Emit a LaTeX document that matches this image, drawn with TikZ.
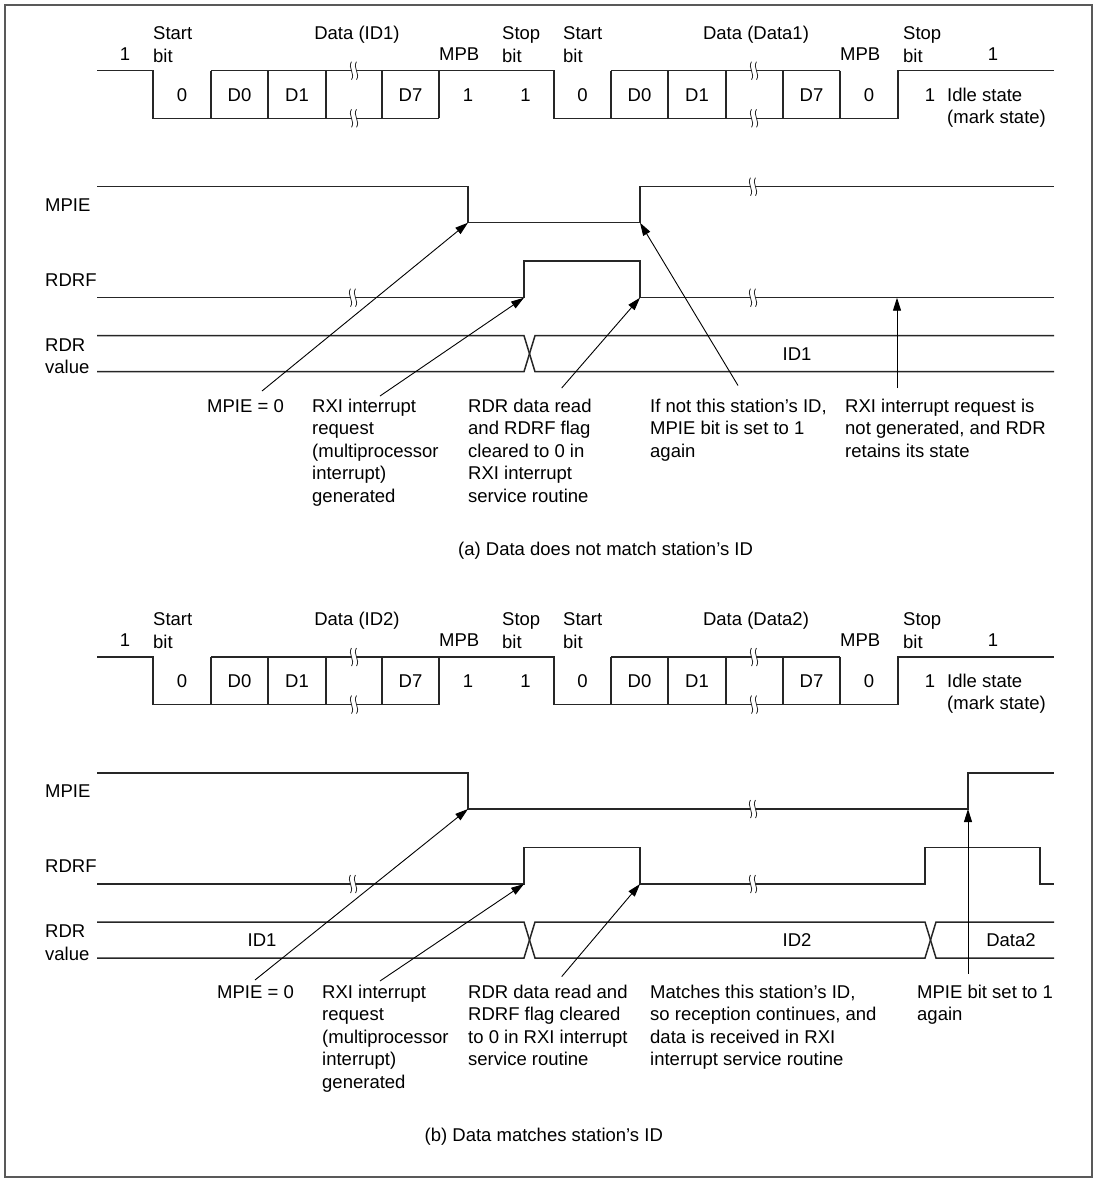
\documentclass[tikz,border=0pt]{standalone}
\usepackage{fontspec}
\setmainfont{Liberation Sans}
\usetikzlibrary{arrows.meta}
\newcommand{\ml}[1]{\begin{tabular}[t]{@{}l@{}}#1\end{tabular}}
\tikzset{
  wave/.style={line width=1.5pt, black!85, line join=miter},
  ann/.style={line width=0.9pt, black, -{Triangle[length=13pt,width=8pt]}},
  lbl/.style={inner sep=0pt, anchor=base},
  lblw/.style={inner sep=0pt, anchor=base west},
  brk/.pic={
    \fill[white] (-2.5,-9) .. controls (-6.5,-3) and (1.5,3) .. (-2.5,9) -- (2.5,9) .. controls (6.5,3) and (-1.5,-3) .. (2.5,-9) -- cycle;
    \draw[line width=0.8pt, black!85] (-2.5,-9) .. controls (-6.5,-3) and (1.5,3) .. (-2.5,9);
    \draw[line width=0.8pt, black!85] (2.5,-9) .. controls (-1.5,-3) and (6.5,3) .. (2.5,9);
  }
}
% #1 prefix, #2 first data, #3 second data
\newcommand{\myframe}[3]{%
  \draw[wave] (97,70.7) -- (153,70.7) -- (153,118.3) -- (439,118.3);
  \draw[wave] (211,70.7) -- (554,70.7) -- (554,118.3) -- (898,118.3) -- (898,70.7) -- (1054,70.7);
  \draw[wave] (611,70.7) -- (840,70.7);
  \foreach \xx in {211,268,326,382,439,611,668,726,783,840} \draw[wave] (\xx,70.7) -- (\xx,118.3);
  \pic at (354,70.7) {brk}; \pic at (354,118.3) {brk};
  \pic at (754,70.7) {brk}; \pic at (754,118.3) {brk};
  \node[lbl] (#1one) at (125,60.6) {1};
  \node[lblw] (#1start) at (153,39.6) {\ml{Start\\bit}};
  \node[lbl] (#1data) at (357,39.6) {Data (#2)};
  \node[lblw] (#1mpb) at (439,60.6) {MPB};
  \node[lblw] (#1stop) at (502,39.6) {\ml{Stop\\bit}};
  \node[lblw] (#1startb) at (563,39.6) {\ml{Start\\bit}};
  \node[lbl] (#1datab) at (756,39.6) {Data (#3)};
  \node[lblw] (#1mpbb) at (840,60.6) {MPB};
  \node[lblw] (#1stopb) at (903,39.6) {\ml{Stop\\bit}};
  \node[lbl] (#1oneb) at (993,60.6) {1};
  \node[lbl] (#1b0) at (182,101) {0};
  \node[lbl] (#1b1) at (239.5,101) {D0};
  \node[lbl] (#1b2) at (297,101) {D1};
  \node[lbl] (#1b3) at (410.5,101) {D7};
  \node[lbl] (#1b4) at (468,101) {1};
  \node[lbl] (#1b5) at (525.5,101) {1};
  \node[lbl] (#1b6) at (582.5,101) {0};
  \node[lbl] (#1b7) at (639.5,101) {D0};
  \node[lbl] (#1b8) at (697,101) {D1};
  \node[lbl] (#1b9) at (811.5,101) {D7};
  \node[lbl] (#1b10) at (869,101) {0};
  \node[lbl] (#1b11) at (930,101) {1};
  \node[lblw] (#1idle) at (947,101) {\ml{Idle state\\(mark state)}};
  \node[lblw] (#1lmpie) at (45,211.6) {MPIE};
  \node[lblw] (#1lrdrf) at (45,286.6) {RDRF};
  \node[lblw] (#1lrdr) at (45,351.3) {\ml{RDR\\value}};
}
\begin{document}
\begin{tikzpicture}[x=1pt,y=-1pt, font=\fontsize{18.5}{22.5}\selectfont]
\useasboundingbox (0,0) rectangle (1098,1181);
\draw[line width=1.2pt, black!65] (5,5) rectangle (1092,1177);

% ---------------- (a) ----------------
\myframe{a}{ID1}{Data1}
\draw[wave] (97,186.7) -- (468,186.7) -- (468,222.7) -- (640,222.7) -- (640,186.7) -- (1054,186.7);
\pic at (753,186.7) {brk};
\draw[wave] (97,297.7) -- (524,297.7) -- (524,261) -- (640,261) -- (640,297.7) -- (1054,297.7);
\pic at (353,297.7) {brk}; \pic at (753,297.7) {brk};
\draw[wave] (97,335.7) -- (524,335.7) -- (535,371.7) -- (1054,371.7);
\draw[wave] (97,371.7) -- (524,371.7) -- (535,335.7) -- (1054,335.7);
\node[lbl] (aid) at (797,360.6) {ID1};

\node[lblw] (an1) at (207,412) {MPIE = 0};
\node[lblw] (an2) at (312,412) {\ml{RXI interrupt\\request\\(multiprocessor\\interrupt)\\generated}};
\node[lblw] (an3) at (468,412) {\ml{RDR data read\\and RDRF flag\\cleared to 0 in\\RXI interrupt\\service routine}};
\node[lblw] (an4) at (650,412) {\ml{If not this station’s ID,\\MPIE bit is set to 1\\again}};
\node[lblw] (an5) at (845,412) {\ml{RXI interrupt request is\\not generated, and RDR\\retains its state}};
\coordinate (at1) at (468,222.7); \coordinate (af1) at (262,391);
\coordinate (at2) at (524,297.7); \coordinate (af2) at (380,396);
\coordinate (at3) at (640,297.7); \coordinate (af3) at (561.7,388);
\coordinate (at4) at (640,222.7); \coordinate (af4) at (738,385.5);
\coordinate (at5) at (897,297.7); \coordinate (af5) at (897,388);
\draw[ann] (af1) -- (at1);
\draw[ann] (af2) -- (at2);
\draw[ann] (af3) -- (at3);
\draw[ann] (af4) -- (at4);
\draw[ann] (af5) -- (at5);
\node[lblw] (capa) at (458,555.6) {(a) Data does not match station’s ID};

% ---------------- (b) ----------------
\begin{scope}[shift={(0,586.3)}]
\myframe{b}{ID2}{Data2}
\draw[wave] (97,186.7) -- (468,186.7) -- (468,222.7) -- (968,222.7) -- (968,186.7) -- (1054,186.7);
\pic at (753,222.7) {brk};
\draw[wave] (97,297.7) -- (524,297.7) -- (524,261) -- (640,261) -- (640,297.7) -- (925,297.7) -- (925,261) -- (1040,261) -- (1040,297.7) -- (1054,297.7);
\pic at (353,297.7) {brk}; \pic at (753,297.7) {brk};
\draw[wave] (97,335.7) -- (524,335.7) -- (535,371.7) -- (925,371.7) -- (936,335.7) -- (1054,335.7);
\draw[wave] (97,371.7) -- (524,371.7) -- (535,335.7) -- (925,335.7) -- (936,371.7) -- (1054,371.7);
\node[lbl] (bid1) at (262,360.6) {ID1};
\node[lbl] (bid2) at (797,360.6) {ID2};
\node[lbl] (bdat) at (1011,360.6) {Data2};

\node[lblw] (bn1) at (217,412) {MPIE = 0};
\node[lblw] (bn2) at (322,412) {\ml{RXI interrupt\\request\\(multiprocessor\\interrupt)\\generated}};
\node[lblw] (bn3) at (468,412) {\ml{RDR data read and\\RDRF flag cleared\\to 0 in RXI interrupt\\service routine}};
\node[lblw] (bn4) at (650,412) {\ml{Matches this station’s ID,\\so reception continues, and\\data is received in RXI\\interrupt service routine}};
\node[lblw] (bn5) at (917,412) {\ml{MPIE bit set to 1\\again}};
\coordinate (bt1) at (468,222.7); \coordinate (bf1) at (255,393.7);
\coordinate (bt2) at (524,297.7); \coordinate (bf2) at (380,394.7);
\coordinate (bt3) at (640,297.7); \coordinate (bf3) at (561.7,390.3);
\coordinate (bt4) at (968,222.7); \coordinate (bf4) at (968,387.3);
\draw[ann] (bf1) -- (bt1);
\draw[ann] (bf2) -- (bt2);
\draw[ann] (bf3) -- (bt3);
\draw[ann] (bf4) -- (bt4);
\node[lblw] (capb) at (424.5,555.6) {(b) Data matches station’s ID};
\end{scope}
\end{tikzpicture}
\end{document}
